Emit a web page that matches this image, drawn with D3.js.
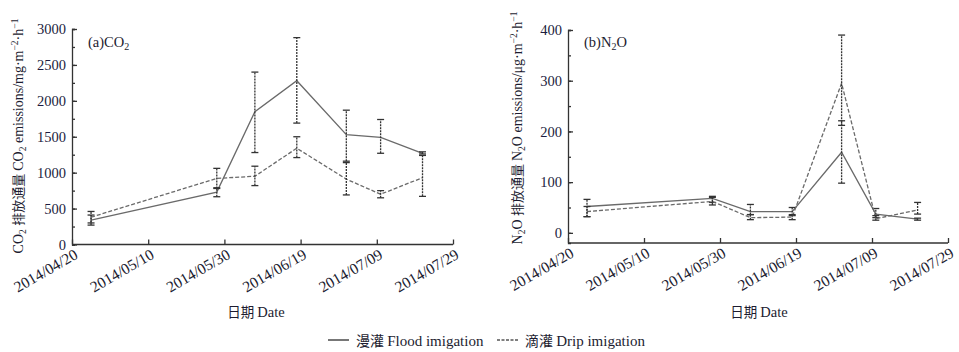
<!DOCTYPE html>
<html><head>
<meta charset="utf-8">
<script src="https://d3js.org/d3.v7.min.js"></script>
<style>
  body { margin: 0; background: #fff; }
  text { font-family: "Liberation Serif", "Noto Sans CJK SC", serif; fill: #1c1c30; }
  .cjk { font-family: "Noto Sans CJK SC", sans-serif; }
</style>
</head>
<body>
<div id="chart"></div>
<script>
// sampling dates
var dates = ["2014-04-25", "2014-05-28", "2014-06-07", "2014-06-18", "2014-07-01", "2014-07-10", "2014-07-21"];
var tickDates = ["2014-04-20", "2014-05-10", "2014-05-30", "2014-06-19", "2014-07-09", "2014-07-29"];

// CO2 (mg m-2 h-1)
var co2Flood   = [340, 730, 1850, 2280, 1530, 1490, 1270];
var co2FloodLo = [270, 665, 1280, 1690, 1160, 1270, 1260];
var co2FloodHi = [410, 790, 2400, 2880, 1870, 1740, 1290];
var co2Drip    = [380, 920, 950, 1340, 910, 700, 930];
var co2DripLo  = [300, 780, 820, 1210, 690, 650, 670];
var co2DripHi  = [460, 1060, 1090, 1500, 1140, 750, 1240];

// N2O (ug m-2 h-1)
var n2oFlood   = [52, 68, 42, 42, 159, 37, 27];
var n2oFloodLo = [32, 60, 36, 34, 98, 30, 25];
var n2oFloodHi = [66, 72, 56, 50, 221, 48, 29];
var n2oDrip    = [42, 62, 30, 31, 295, 28, 45];
var n2oDripLo  = [32, 55, 26, 26, 212, 25, 37];
var n2oDripHi  = [52, 70, 36, 36, 390, 34, 60];

var W = 959, H = 352;
var parse = d3.timeParse("%Y-%m-%d");
var fmt = d3.timeFormat("%Y/%m/%d");
var svg = d3.select("#chart").append("svg").attr("width", W).attr("height", H);

function panel(o) {
  var x = d3.scaleTime().domain([parse("2014-04-20"), parse("2014-07-29")]).range([o.x0, o.x1]);
  var y = d3.scaleLinear().domain(o.ydom).range([o.y0, o.y1]);
  var g = svg.append("g");

  // axes
  var yAxis = g.append("g").attr("transform", "translate(" + o.x0 + ",0)")
    .call(d3.axisRight(y).tickValues(d3.range(0, o.ydom[1] + 1, o.minor)).tickSize(3).tickFormat(""));
  g.append("g").attr("transform", "translate(" + o.x0 + ",0)")
    .call(d3.axisLeft(y).tickValues(d3.range(0, o.ydom[1] + 1, o.major)).tickSize(0).tickPadding(6).tickFormat(d3.format("d")))
    .call(function(a) { a.select(".domain").remove(); a.selectAll("text").style("font-size", "14.5px").style("fill", "#1c1c40"); });
  g.append("g").attr("transform", "translate(" + o.x0 + ",0)")
    .call(d3.axisRight(y).tickValues(d3.range(0, o.ydom[1] + 1, o.major)).tickSize(5).tickFormat(""))
    .select(".domain").remove();
  yAxis.selectAll("path,line").attr("stroke", "#333").attr("stroke-width", 1.3);
  g.selectAll("line").attr("stroke", "#333").attr("stroke-width", 1.3);

  var xAxis = g.append("g").attr("transform", "translate(0," + o.y0 + ")")
    .call(d3.axisTop(x).tickValues(tickDates.map(parse)).tickSize(5).tickFormat(""));
  xAxis.selectAll("path,line").attr("stroke", "#333").attr("stroke-width", 1.3);
  xAxis.select(".domain").attr("d", "M" + o.x0 + ",0H" + o.x1);

  g.append("g").selectAll("text").data(tickDates).join("text")
    .attr("transform", function(d) { return "translate(" + (x(parse(d)) + 7) + "," + (o.y0 + 13) + ") rotate(-30)"; })
    .attr("text-anchor", "end").style("font-size", "15.5px")
    .text(function(d) { return fmt(parse(d)); });

  // x title
  var xt = g.append("text").attr("x", o.xtx).attr("y", 317)
    .attr("text-anchor", "middle").style("font-size", "14.5px");
  xt.append("tspan").attr("class", "cjk").style("font-size", "13.5px").text("日期 ");
  xt.append("tspan").text("Date");

  // y title
  var yt = g.append("text").attr("transform", "translate(" + o.tx + "," + o.ty + ") rotate(-90)")
    .attr("text-anchor", "middle").style("font-size", "14px");
  yt.append("tspan").text(o.gas[0]);
  yt.append("tspan").attr("dy", 3).style("font-size", "9.5px").text("2");
  yt.append("tspan").attr("dy", -3).text(o.gas[1] + " ");
  yt.append("tspan").attr("class", "cjk").style("font-size", "13px").text("排放通量 ");
  yt.append("tspan").text(o.gas[0]);
  yt.append("tspan").attr("dy", 3).style("font-size", "9.5px").text("2");
  yt.append("tspan").attr("dy", -3).text(o.gas[1] + " emissions/" + o.unit + "·m");
  yt.append("tspan").attr("dy", -5).style("font-size", "9.5px").text("−2");
  yt.append("tspan").attr("dy", 5).text("·h");
  yt.append("tspan").attr("dy", -5).style("font-size", "9.5px").text("−1");

  // panel label
  var pl = g.append("text").attr("x", o.x0 + 16).attr("y", 47).style("font-size", "14.5px");
  pl.append("tspan").text(o.label + o.gas[0]);
  pl.append("tspan").attr("dy", 3).style("font-size", "10px").text("2");
  pl.append("tspan").attr("dy", -3).text(o.gas[1]);

  // series
  var series = [
    { v: o.flood, lo: o.floodLo, hi: o.floodHi, dash: null },
    { v: o.drip, lo: o.dripLo, hi: o.dripHi, dash: "4,2" }
  ];
  series.forEach(function(s) {
    var pts = dates.map(function(d, i) { return { x: parse(d), v: s.v[i], lo: s.lo[i], hi: s.hi[i] }; });
    g.append("path").datum(pts)
      .attr("fill", "none").attr("stroke", "#6a6a6a").attr("stroke-width", 1.3)
      .attr("stroke-dasharray", s.dash)
      .attr("d", d3.line().x(function(d) { return x(d.x); }).y(function(d) { return y(d.v); }));
    var eb = g.append("g").selectAll("g").data(pts).join("g").attr("stroke", "#333").attr("stroke-width", 1.3);
    eb.append("line").attr("x1", function(d) { return x(d.x); }).attr("x2", function(d) { return x(d.x); })
      .attr("y1", function(d) { return y(d.lo); }).attr("y2", function(d) { return y(d.hi); })
      .attr("stroke-dasharray", "2,1");
    eb.append("line").attr("x1", function(d) { return x(d.x) - 3.5; }).attr("x2", function(d) { return x(d.x) + 3.5; })
      .attr("y1", function(d) { return y(d.lo); }).attr("y2", function(d) { return y(d.lo); });
    eb.append("line").attr("x1", function(d) { return x(d.x) - 3.5; }).attr("x2", function(d) { return x(d.x) + 3.5; })
      .attr("y1", function(d) { return y(d.hi); }).attr("y2", function(d) { return y(d.hi); });
  });
}

panel({ x0: 72, x1: 453, y0: 244.5, y1: 29, ydom: [0, 3000], major: 500, minor: 250,
  tx: 23, ty: 136, xtx: 256, gas: ["CO", ""], unit: "mg", label: "(a)",
  flood: co2Flood, floodLo: co2FloodLo, floodHi: co2FloodHi,
  drip: co2Drip, dripLo: co2DripLo, dripHi: co2DripHi });

panel({ x0: 568, x1: 948, y0: 243, y1: 30, ydom: [-20, 400], major: 100, minor: 50,
  tx: 522, ty: 128, xtx: 759, gas: ["N", "O"], unit: "μg", label: "(b)",
  flood: n2oFlood, floodLo: n2oFloodLo, floodHi: n2oFloodHi,
  drip: n2oDrip, dripLo: n2oDripLo, dripHi: n2oDripHi });

// legend
var leg = svg.append("g");
var items = [{ x: 328, zh: "漫灌", en: "Flood imigation", dash: null },
             { x: 497, zh: "滴灌", en: "Drip imigation", dash: "3,1.5" }];
items.forEach(function(it) {
  leg.append("line").attr("x1", it.x).attr("x2", it.x + 21).attr("y1", 340).attr("y2", 340)
    .attr("stroke", "#555").attr("stroke-width", 1.6).attr("stroke-dasharray", it.dash);
  var t = leg.append("text").attr("x", it.x + 28).attr("y", 345.5).style("font-size", "15px");
  t.append("tspan").attr("class", "cjk").style("font-size", "14px").text(it.zh + " ");
  t.append("tspan").text(it.en);
});
</script>
</body></html>
